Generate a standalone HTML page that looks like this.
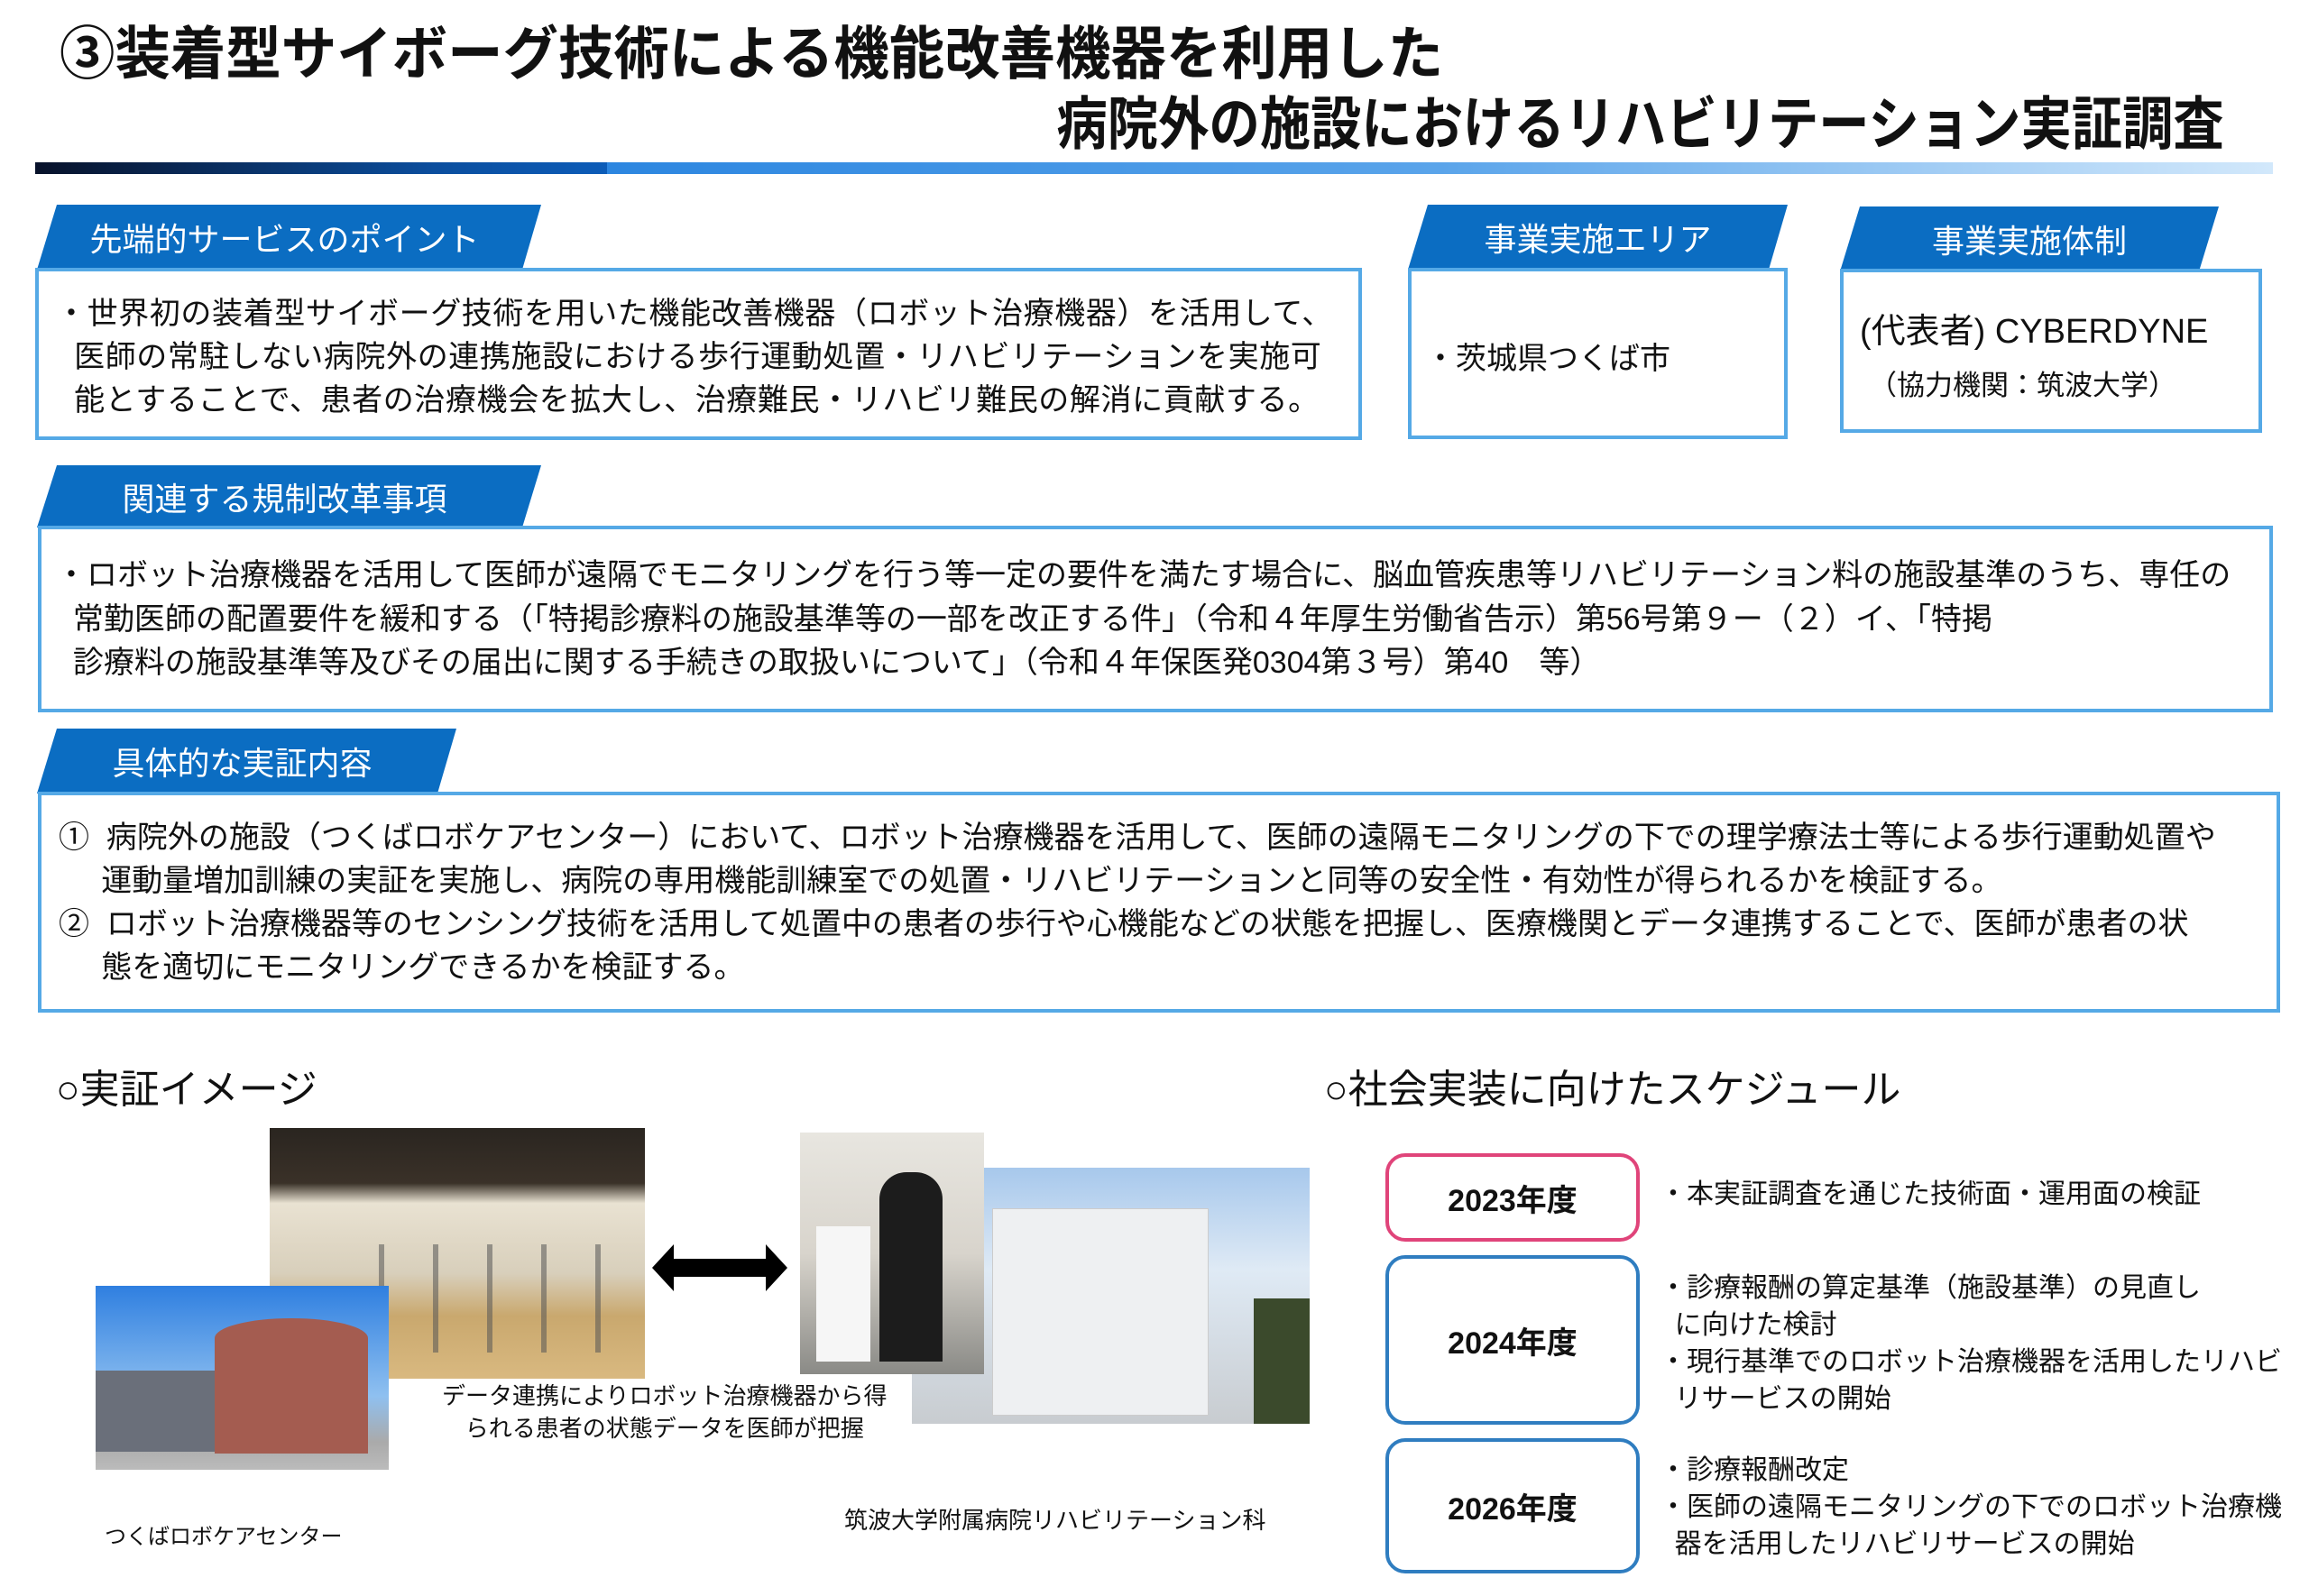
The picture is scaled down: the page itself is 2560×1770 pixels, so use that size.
<!DOCTYPE html>
<html><head><meta charset="utf-8">
<style>
*{margin:0;padding:0;box-sizing:border-box}
body{width:2560px;height:1770px;background:#fff;position:relative;overflow:hidden;font-family:"Liberation Sans","Noto Sans CJK JP",sans-serif;color:#111}
.a{position:absolute;white-space:nowrap}
.title{font-weight:bold;font-size:64px;line-height:1}
.tab{position:absolute;background:#0b6dc2;color:#fff;font-size:36px;display:flex;align-items:center;justify-content:center}
.box{position:absolute;border:4px solid #55a9e6;background:#fff}
.t34{font-size:34px}
.yr{position:absolute;border:4px solid #2f7dc0;border-radius:22px;font-weight:bold;font-size:34px;display:flex;align-items:center;justify-content:center}
.st{font-size:30px;line-height:41px}
</style></head><body>

<div class="a title" style="left:66px;top:28px;transform:scaleX(0.96);transform-origin:left">③装着型サイボーグ技術による機能改善機器を利用した</div>
<div class="a title" style="right:94px;top:106px;transform:scaleX(0.88);transform-origin:right">病院外の施設におけるリハビリテーション実証調査</div>
<div class="a" style="left:39px;top:180px;width:634px;height:13px;background:linear-gradient(90deg,#08122a,#0b4e9e 70%,#0c5cb8)"></div>
<div class="a" style="left:673px;top:180px;width:1847px;height:13px;background:linear-gradient(90deg,#2c86e0,#5aa4ea 50%,#d2e8fb)"></div>

<div class="tab" style="left:41px;top:227px;width:559px;height:72px;clip-path:polygon(22px 0,559px 0,538px 100%,0 100%);padding-right:10px">先端的サービスのポイント</div>
<div class="box" style="left:39px;top:297px;width:1471px;height:191px"></div>
<div class="a t34" style="left:62px;top:324px;line-height:48px;letter-spacing:0.6px">・世界初の装着型サイボーグ技術を用いた機能改善機器（ロボット治療機器）を活用して、<br>&nbsp;&nbsp;医師の常駐しない病院外の連携施設における歩行運動処置・リハビリテーションを実施可<br>&nbsp;&nbsp;能とすることで、患者の治療機会を拡大し、治療難民・リハビリ難民の解消に貢献する。</div>

<div class="tab" style="left:1561px;top:227px;width:421px;height:72px;clip-path:polygon(22px 0,421px 0,400px 100%,0 100%)">事業実施エリア</div>
<div class="box" style="left:1561px;top:297px;width:421px;height:190px"></div>
<div class="a t34" style="left:1580px;top:370px">・茨城県つくば市</div>

<div class="tab" style="left:2040px;top:229px;width:420px;height:72px;clip-path:polygon(22px 0,420px 0,398px 100%,0 100%)">事業実施体制</div>
<div class="box" style="left:2040px;top:298px;width:468px;height:182px"></div>
<div class="a" style="left:2062px;top:336px;font-size:38px">(代表者)&nbsp;CYBERDYNE</div>
<div class="a" style="left:2072px;top:402px;font-size:31px">（協力機関：筑波大学）</div>

<div class="tab" style="left:41px;top:516px;width:559px;height:69px;clip-path:polygon(22px 0,559px 0,538px 100%,0 100%);padding-right:10px">関連する規制改革事項</div>
<div class="box" style="left:42px;top:583px;width:2478px;height:207px"></div>
<div class="a t34" style="left:62px;top:614px;line-height:48.5px">・ロボット治療機器を活用して医師が遠隔でモニタリングを行う等一定の要件を満たす場合に、脳血管疾患等リハビリテーション料の施設基準のうち、専任の<br>&nbsp;&nbsp;常勤医師の配置要件を緩和する（「特掲診療料の施設基準等の一部を改正する件」（令和４年厚生労働省告示）第56号第９ー（２）イ、「特掲<br>&nbsp;&nbsp;診療料の施設基準等及びその届出に関する手続きの取扱いについて」（令和４年保医発0304第３号）第40　等）</div>

<div class="tab" style="left:41px;top:808px;width:465px;height:72px;clip-path:polygon(22px 0,465px 0,444px 100%,0 100%);padding-right:10px">具体的な実証内容</div>
<div class="box" style="left:42px;top:878px;width:2486px;height:245px"></div>
<div class="a t34" style="left:65px;top:905px;line-height:48px">①&nbsp;&nbsp;病院外の施設（つくばロボケアセンター）において、ロボット治療機器を活用して、医師の遠隔モニタリングの下での理学療法士等による歩行運動処置や<br>&nbsp;&nbsp;&nbsp;&nbsp;&nbsp;運動量増加訓練の実証を実施し、病院の専用機能訓練室での処置・リハビリテーションと同等の安全性・有効性が得られるかを検証する。<br>②&nbsp;&nbsp;ロボット治療機器等のセンシング技術を活用して処置中の患者の歩行や心機能などの状態を把握し、医療機関とデータ連携することで、医師が患者の状<br>&nbsp;&nbsp;&nbsp;&nbsp;&nbsp;態を適切にモニタリングできるかを検証する。</div>

<div class="a" style="left:62px;top:1172px;font-size:44px">○実証イメージ</div>
<div class="a" style="left:1468px;top:1172px;font-size:44px">○社会実装に向けたスケジュール</div>

<div class="a" style="left:299px;top:1251px;width:416px;height:278px;background:linear-gradient(180deg,#2a2520 0%,#3a3128 22%,#e9e2d2 30%,#d8cfbb 58%,#c9a86e 75%,#d9b980 100%)"></div>
<div class="a" style="left:400px;top:1380px;width:300px;height:120px;background:repeating-linear-gradient(90deg,transparent 0 20px,#555 20px 26px,transparent 26px 60px);opacity:.55"></div>
<div class="a" style="left:106px;top:1426px;width:325px;height:204px;background:linear-gradient(180deg,#2f7fe0 0%,#8fc0f0 60%,#aaa 85%,#bbb 100%)"></div>
<div class="a" style="left:238px;top:1462px;width:170px;height:150px;background:#a45c50;border-radius:85px 85px 0 0/22px 22px 0 0"></div>
<div class="a" style="left:106px;top:1520px;width:132px;height:90px;background:#6a6f7a"></div>

<svg class="a" style="left:723px;top:1380px" width="150" height="52"><polygon points="0,26 24,0 24,16 126,16 126,0 150,26 126,52 126,36 24,36 24,52" fill="#000"/></svg>

<div class="a" style="left:1011px;top:1295px;width:441px;height:284px;background:linear-gradient(180deg,#a7c8ec 0%,#dfeaf5 40%,#c8ccd0 100%)"></div>
<div class="a" style="left:1100px;top:1340px;width:240px;height:230px;background:#eef0f2;border:1px solid #ccc"></div>
<div class="a" style="left:1390px;top:1440px;width:62px;height:139px;background:#3b4a2c"></div>
<div class="a" style="left:887px;top:1256px;width:204px;height:268px;background:linear-gradient(180deg,#e8e6e0 0%,#d8d4cc 50%,#8a8a86 100%)"></div>
<div class="a" style="left:975px;top:1300px;width:70px;height:210px;background:#1c1c1c;border-radius:30px 30px 0 0"></div>
<div class="a" style="left:905px;top:1360px;width:60px;height:150px;background:#f6f6f6"></div>

<div class="a" style="left:490px;top:1530px;font-size:26px;line-height:36px;text-align:center">データ連携によりロボット治療機器から得<br>られる患者の状態データを医師が把握</div>
<div class="a" style="left:116px;top:1684px;font-size:24px">つくばロボケアセンター</div>
<div class="a" style="left:936px;top:1666px;font-size:26px">筑波大学附属病院リハビリテーション科</div>

<div class="yr" style="left:1536px;top:1279px;width:282px;height:98px;border-color:#e0447a">2023年度</div>
<div class="yr" style="left:1536px;top:1392px;width:282px;height:188px">2024年度</div>
<div class="yr" style="left:1536px;top:1595px;width:282px;height:150px">2026年度</div>
<div class="a st" style="left:1840px;top:1304px">・本実証調査を通じた技術面・運用面の検証</div>
<div class="a st" style="left:1840px;top:1408px">・診療報酬の算定基準（施設基準）の見直し<br>&nbsp;&nbsp;に向けた検討<br>・現行基準でのロボット治療機器を活用したリハビ<br>&nbsp;&nbsp;リサービスの開始</div>
<div class="a st" style="left:1840px;top:1610px">・診療報酬改定<br>・医師の遠隔モニタリングの下でのロボット治療機<br>&nbsp;&nbsp;器を活用したリハビリサービスの開始</div>
</body></html>
